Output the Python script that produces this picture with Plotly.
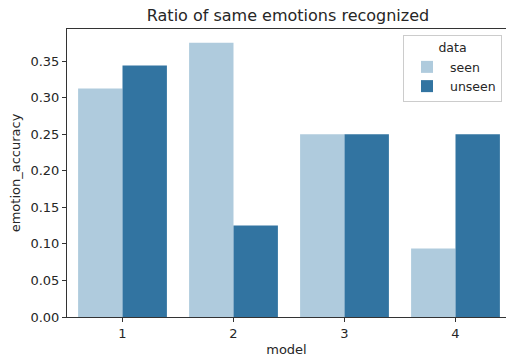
import plotly.graph_objects as go

models = ["1", "2", "3", "4"]
seen = [0.3125, 0.375, 0.25, 0.09375]
unseen = [0.34375, 0.125, 0.25, 0.25]
series_names = ["seen", "unseen"]
colors = ["#afcbdd", "#3274a1"]
y_ticks = [0.00, 0.05, 0.10, 0.15, 0.20, 0.25, 0.30, 0.35]

W, H = 506, 357
L, R, T, B = 67, 0, 29, 40
TXT = "#262626"
FONT = "DejaVu Sans, Arial, sans-serif"

fig = go.Figure()
for name, vals, col in zip(series_names, [seen, unseen], colors):
    fig.add_trace(go.Bar(x=models, y=vals, name=name, marker=dict(color=col, line=dict(width=0))))

fig.update_layout(
    width=W, height=H,
    margin=dict(l=L, r=R, t=T, b=B, pad=0, autoexpand=False),
    paper_bgcolor="white", plot_bgcolor="white",
    font=dict(family=FONT, size=13, color=TXT),
    barmode="group", bargap=0.2, bargroupgap=0,
    title=dict(text="Ratio of same emotions recognized", font=dict(size=16, color=TXT),
               xref="container", x=288 / W, xanchor="center",
               yref="container", y=1 - 15 / H, yanchor="middle", automargin=False),
    legend=dict(
        title=dict(text="data", side="top center", font=dict(size=12.5, color=TXT)),
        x=(502 - L) / (W - L - R), xanchor="right",
        y=(317 - 35) / (H - T - B), yanchor="top",
        bgcolor="rgba(255,255,255,0.8)", bordercolor="#cccccc", borderwidth=1,
        font=dict(size=12.5, color=TXT),
        itemwidth=36, tracegroupgap=2,
    ),
    showlegend=True,
)

fig.update_xaxes(
    type="category", range=[-0.5, 3.455], automargin=False,
    showline=True, linecolor="#333333", linewidth=1, mirror=True,
    ticks="outside", ticklen=4, tickwidth=1, tickcolor="#333333",
    showgrid=False, zeroline=False,
    title=dict(text="model", standoff=6, font=dict(size=13, color=TXT)),
    tickfont=dict(size=13, color=TXT),
)
fig.update_yaxes(
    range=[0, 0.39375], automargin=False,
    tickvals=y_ticks, ticktext=[f"{v:.2f}" for v in y_ticks],
    showline=True, linecolor="#333333", linewidth=1,
    ticks="outside", ticklen=4, tickwidth=1, tickcolor="#333333",
    showgrid=False, zeroline=False,
    title=dict(text="emotion_accuracy", standoff=6, font=dict(size=13, color=TXT)),
    tickfont=dict(size=13, color=TXT),
)

fig.write_html("out.html", config={"displayModeBar": False},
               post_script="document.body.style.margin='0';document.body.style.overflow='hidden';")
